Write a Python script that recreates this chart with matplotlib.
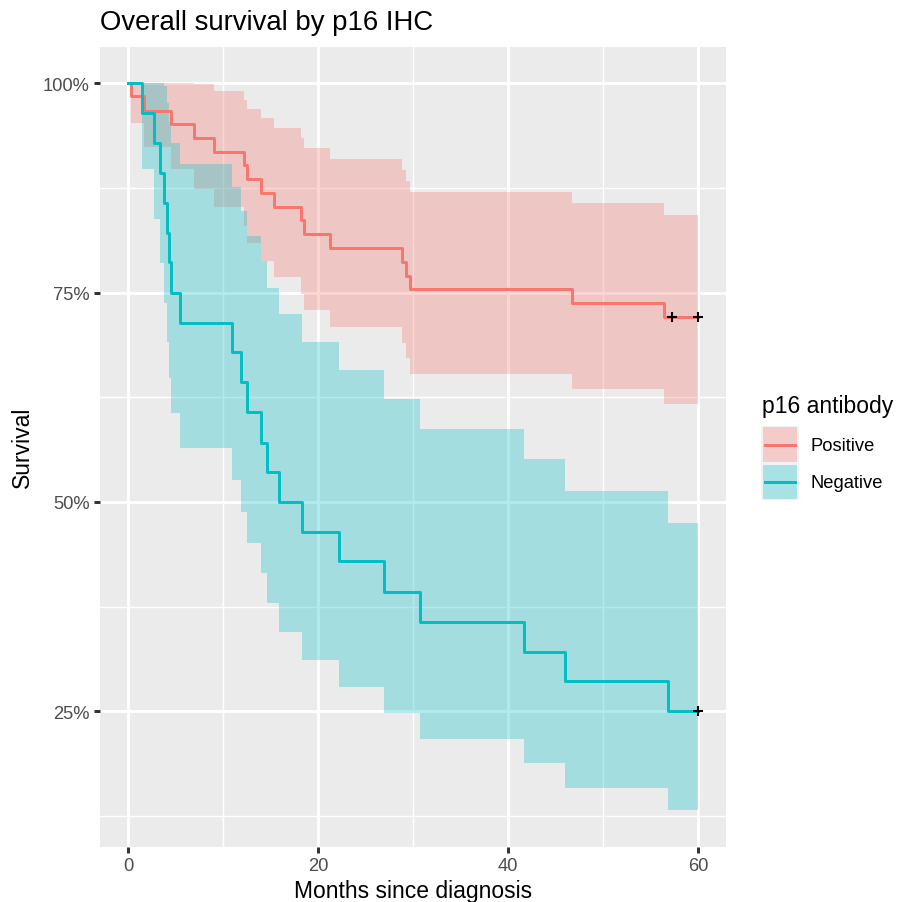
import matplotlib.pyplot as plt
from matplotlib.patches import Rectangle
from matplotlib.lines import Line2D
from matplotlib.ticker import FixedLocator

# Kaplan-Meier estimates (months, percent)
groups = ["Positive", "Negative"]
colors = ["#F8766D", "#00BFC4"]

pos_time = [0, 0.25, 1.6, 4.5, 6.89, 9.0, 12.13, 12.48, 13.99, 15.32, 18.21,
            18.47, 21.2, 28.86, 29.28, 29.71, 46.71, 56.42, 60]
pos_surv = [100, 98.4, 96.7, 95.1, 93.4, 91.8, 90.2, 88.5, 86.9, 85.2, 83.6,
            82.0, 80.3, 78.7, 77.0, 75.4, 73.8, 72.1]
pos_upper = [100, 100, 100, 100, 99.9, 99.0, 98.0, 96.9, 95.8, 94.6, 93.4,
             92.2, 90.9, 89.6, 88.3, 87.0, 85.7, 84.3]
pos_lower = [100, 95.2, 92.4, 89.8, 87.4, 85.2, 83.0, 80.9, 78.8, 76.8, 74.8,
             72.9, 70.9, 69.0, 67.2, 65.3, 63.5, 61.7]
pos_censor = [57.33, 60]

neg_time = [0, 1.42, 2.67, 3.37, 3.72, 4.08, 4.25, 4.43, 5.48, 10.93, 11.81,
            12.51, 13.99, 14.62, 15.85, 18.31, 22.18, 26.93, 30.69, 41.69,
            45.98, 56.87, 60]
neg_surv = [100, 96.4, 92.9, 89.3, 85.7, 82.1, 78.6, 75.0, 71.4, 67.9, 64.3,
            60.7, 57.1, 53.6, 50.0, 46.4, 42.9, 39.3, 35.7, 32.1, 28.6, 25.0]
neg_upper = [100, 100, 100, 100, 99.7, 97.6, 95.3, 92.9, 90.3, 87.6, 84.7,
             81.8, 78.8, 75.6, 72.4, 69.1, 65.7, 62.3, 58.7, 55.1, 51.3, 47.5]
neg_lower = [100, 89.8, 83.8, 78.5, 73.7, 69.1, 64.8, 60.6, 56.5, 52.6, 48.8,
             45.1, 41.5, 38.0, 34.5, 31.2, 27.9, 24.8, 21.7, 18.8, 15.9, 13.2]
neg_censor = [60]

x_ticks = [0, 20, 40, 60]
y_ticks = [25, 50, 75, 100]
y_tick_labels = ["25%", "50%", "75%", "100%"]

W, H = 897, 903
DPI = 150
plt.rcParams["font.family"] = ["Liberation Sans", "DejaVu Sans"]


def fx(x):
    return x / W


def fy(y):
    return 1 - y / H


def main():
    fig = plt.figure(figsize=(W / DPI, H / DPI), dpi=DPI)
    left, right, top, bottom = 100, 726.3, 47.7, 847.7
    ax = fig.add_axes([fx(left), fy(bottom), (right - left) / W, (bottom - top) / H])
    ax.set_facecolor("#EBEBEB")
    for key in ax.spines:
        ax.spines[key].set_visible(False)

    data = [
        (pos_time, pos_surv, pos_upper, pos_lower, pos_censor),
        (neg_time, neg_surv, neg_upper, neg_lower, neg_censor),
    ]

    for (t, s, up, lo, cens), col in zip(data, colors):
        ax.fill_between(t, lo + lo[-1:], up + up[-1:], step="post",
                        color=col, alpha=0.3, lw=0, zorder=2)
    for (t, s, up, lo, cens), col in zip(data, colors):
        ax.step(t, s + s[-1:], where="post", color=col, lw=1.42, zorder=3)
    for (t, s, up, lo, cens), col in zip(data, colors):
        ax.plot(cens, [s[-1]] * len(cens), ls="none", marker="+", ms=5,
                mew=1.0, color="black", zorder=4)

    ymin = min(pos_lower + neg_lower)
    ymax = 100
    pad = (ymax - ymin) * 0.05
    ax.set_ylim(ymin - pad, ymax + pad)
    ax.set_xlim(-3, 63)

    ax.xaxis.set_major_locator(FixedLocator(x_ticks))
    ax.xaxis.set_minor_locator(FixedLocator([10, 30, 50]))
    ax.yaxis.set_major_locator(FixedLocator(y_ticks))
    ax.yaxis.set_minor_locator(FixedLocator([12.5, 37.5, 62.5, 87.5]))
    ax.set_yticklabels(y_tick_labels)
    ax.grid(which="major", color="white", lw=1.42)
    ax.grid(which="minor", color="white", lw=0.71)
    ax.set_axisbelow(True)
    ax.tick_params(which="major", length=2.75, width=1.42, color="#333333",
                   labelsize=8.8, labelcolor="#4D4D4D", pad=2.2)
    ax.tick_params(which="minor", length=0)

    fig.text(fx(413), fy(898), "Months since diagnosis", fontsize=11,
             ha="center", va="baseline")
    ax.set_ylabel("Survival", fontsize=11, labelpad=4)
    fig.text(fx(100), fy(30), "Overall survival by p16 IHC", fontsize=13.2,
             ha="left", va="baseline")

    # legend
    fig.text(fx(762), fy(413), "p16 antibody", fontsize=11, ha="left", va="baseline")
    fig.patches.append(Rectangle((fx(761), fy(500.7)), fx(38), 74 / H,
                                 transform=fig.transFigure, color="#F2F2F2", lw=0))
    for i, (name, col) in enumerate(zip(groups, colors)):
        y0 = 428.3 + i * 37.2
        fig.patches.append(Rectangle((fx(762.7), fy(y0 + 34.5)), fx(34.6), 34.5 / H,
                                     transform=fig.transFigure, color=col,
                                     alpha=0.3, lw=0))
        fig.lines.append(Line2D([fx(765), fx(794.5)], [fy(y0 + 17.3)] * 2,
                                transform=fig.transFigure, color=col, lw=1.42))
        fig.text(fx(810), fy(y0 + 17.8), name, fontsize=8.8, ha="left", va="center")

    fig.savefig("out.png", dpi=DPI)


main()
